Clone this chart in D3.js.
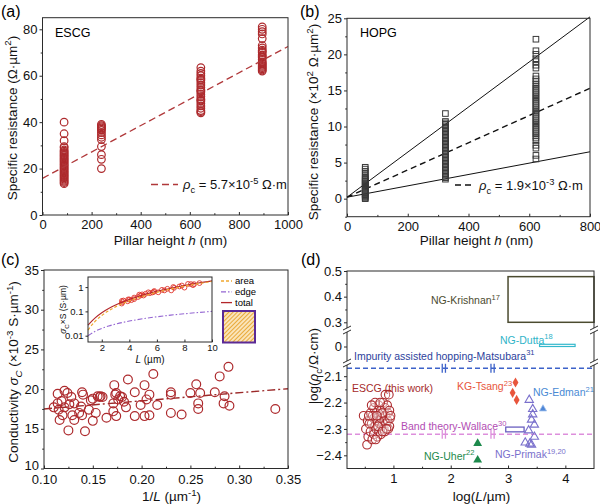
<!DOCTYPE html>
<html><head><meta charset="utf-8">
<script src="https://cdn.jsdelivr.net/npm/d3@7"></script>
<style>body{margin:0;background:#fff} svg{display:block}</style>
</head><body>
<script>
// ---------------- DATA ----------------
// (a) ESCG
const aHeights = [88, 240, 645, 895];
const aCol1 = [13.5,14,14.5,15,15.5,16,16.5,17,17.5,18,18.5,19,19.5,20,20.5,21,21.5,22,22.5,23,23.5,24,24.5,25,25.5,26,26.5,27,27.5,28,29,29.5,32,35,40];
const aCol2 = [20,24,26,29.5,32.5,33.5,34.5,35.5,36.5,37,37.5,38,38.5,39];
const aCol3 = [44,44.5,45,46,47,48,49,49.5,50,51,52,53,53.5,54,55,56,57,58,58.5,59,60,61,62,63.5];
const aCol4 = [62,62.5,63,63.5,64,64.5,65,65.5,66,67,68,68.5,69,70,70.5,71,72,73,76,78,79,80,81];
const aFitX = [0, 1000];
const aFitY = [15.8, 72.6];
const aXTicks = [0,200,400,600,800,1000], aXMinor = [100,300,500,700,900];
const aYTicks = [0,20,40,60,80], aYMinor = [10,30,50,70];

// (b) HOPG
const bHeights = [60, 324, 622];
const bCol1 = [0.0,0.1,0.25,0.4,0.55,0.7,0.85,1.0,1.15,1.3,1.45,1.6,1.75,1.9,2.05,2.2,2.35,2.5,2.65,2.8,2.95,3.2,3.5,3.8,4.1,4.35];
const bCol2 = [2.7,2.9,3.1,3.3,3.5,3.7,3.9,4.1,4.3,4.5,4.7,4.9,5.1,5.3,5.5,5.7,5.9,6.1,6.3,6.5,6.7,6.9,7.1,7.3,7.5,7.7,7.9,8.1,8.3,8.5,8.7,8.9,9.1,9.3,9.5,9.7,9.9,10.1,10.3,10.5,10.7,11.8];
const bCol3 = [5.5,6.0,7.0,7.4,8.0,8.4,8.7,9.0,9.3,9.6,9.9,10.2,10.5,10.8,11.1,11.4,11.7,12.0,12.3,12.6,12.9,13.2,13.5,13.8,14.1,14.4,14.7,15.0,15.3,15.6,15.9,16.3,16.6,17.0,18.1,18.5,19.0,19.4,20.0,20.5,22.1];
const bLineX = [0, 800];
const bUpperY = [0.2, 25.2];
const bFitY = [0.2, 15.3];
const bLowerY = [0.2, 6.5];
const bXTicks = [0,200,400,600,800], bXMinor = [100,300,500,700];
const bYTicks = [0,5,10,15,20,25], bYMinor = [-2.5,2.5,7.5,12.5,17.5,22.5];

// (c) conductivity vs 1/L
const cInvL = [0.110,0.114,0.115,0.114,0.116,0.118,0.119,0.121,0.121,0.124,0.125,0.126,0.128,0.129,0.131,0.131,0.136,0.138,0.139,0.139,0.140,0.142,0.146,0.148,0.150,0.150,0.153,0.155,0.157,0.158,0.160,0.164,0.171,0.172,0.171,0.173,0.174,0.174,0.176,0.178,0.180,0.182,0.184,0.186,0.193,0.193,0.199,0.203,0.203,0.205,0.208,0.208,0.212,0.216,0.230,0.230,0.230,0.241,0.250,0.256,0.258,0.258,0.260,0.275,0.280,0.284,0.285,0.289,0.290,0.337];
const cSigma = [17.7,18.2,17.4,19.4,16.1,18.5,16.7,19.8,17.7,19.5,14.8,18.1,19.0,16.7,16.1,18.2,17.0,17.8,16.7,19.6,19.3,14.7,17.4,18.6,16.0,18.8,17.0,19.1,19.0,19.1,19.0,16.4,18.2,20.5,17.2,19.3,16.6,19.5,18.7,19.1,19.0,18.4,17.7,21.2,19.6,16.6,18.0,16.6,20.5,18.7,19.3,16.7,21.9,18.0,17.0,19.6,19.3,16.8,19.5,20.6,18.2,17.5,19.5,19.6,21.6,18.2,19.1,22.8,17.9,17.5];
const cFitX = [0.10, 0.35];
const cFitY = [17.5, 20.05];
const cXTicks = [0.10,0.15,0.20,0.25,0.30,0.35], cXMinor = [0.125,0.175,0.225,0.275,0.325];
const cYTicks = [10,15,20,25,30,35], cYMinor = [12.5,17.5,22.5,27.5,32.5];
// inset
const iL     = [1,1.5,2,2.5,3,4,5,6,7,8,9,10];
const iArea  = [0.017,0.038,0.068,0.106,0.153,0.27,0.42,0.61,0.83,1.09,1.38,1.70];
const iEdge  = [0.010,0.015,0.020,0.025,0.030,0.040,0.050,0.060,0.070,0.080,0.090,0.100];
const iTotal = [0.027,0.053,0.088,0.131,0.183,0.31,0.47,0.67,0.90,1.17,1.47,1.80];
const iPtL = [9.09,8.70,8.62,8.47,8.26,8.0,7.81,7.63,7.25,7.19,7.04,6.76,6.54,6.37,6.10,5.81,5.78,5.68,5.49,5.38,5.18,5.03,4.93,4.81,4.72,4.63,4.35,4.35,4.15,4.0,3.91,3.88,3.57,3.51,3.46,3.45];
const iPtV = [1.46,1.32,1.20,1.33,1.35,0.95,1.16,1.06,0.93,1.01,0.73,0.85,0.73,0.77,0.61,0.69,0.64,0.60,0.56,0.61,0.53,0.45,0.50,0.45,0.49,0.39,0.32,0.37,0.29,0.31,0.31,0.26,0.28,0.24,0.27,0.21];
const iXTicks = [2,4,6,8,10];
const iYTicks = [0.01,0.1,1];
const iLegend = ["area","edge","total"];

// (d) log rho vs log L
const dEscg = [[0.48,-2.25],[0.55,-2.27],[0.52,-2.30],[0.56,-2.33],[0.54,-2.36],[0.60,-2.24],[0.62,-2.28],[0.60,-2.31],[0.63,-2.34],[0.66,-2.22],[0.66,-2.26],[0.68,-2.29],[0.66,-2.32],[0.70,-2.24],[0.72,-2.27],[0.70,-2.30],[0.72,-2.33],[0.74,-2.21],[0.75,-2.25],[0.76,-2.28],[0.75,-2.31],[0.78,-2.23],[0.79,-2.26],[0.80,-2.29],[0.78,-2.32],[0.82,-2.20],[0.82,-2.24],[0.84,-2.27],[0.83,-2.30],[0.85,-2.22],[0.86,-2.25],[0.87,-2.28],[0.85,-2.31],[0.89,-2.21],[0.90,-2.24],[0.90,-2.27],[0.91,-2.30],[0.93,-2.23],[0.94,-2.26],[0.93,-2.29],[0.86,-2.17],[0.92,-2.17],[0.64,-2.25],[0.68,-2.20],[0.58,-2.28],[0.73,-2.29],[0.81,-2.31],[0.88,-2.30],[0.77,-2.20],[0.69,-2.34],[0.62,-2.21],[0.95,-2.25],[0.57,-2.25],[0.80,-2.24],[0.71,-2.25]];
const dTsang = [[3.13,-2.124],[3.08,-2.163],[3.15,-2.19]];
const dEdman = [[3.61,-2.224]];
const dPrimak = [[3.37,-2.19],[3.43,-2.225],[3.43,-2.245],[3.41,-2.265],[3.46,-2.284],[3.36,-2.306],[3.46,-2.33],[3.30,-2.352],[3.38,-2.356],[3.41,-2.36]];
const dPrimakBox = [2.96, 3.28, -2.293, -2.311];
const dUher = [[2.47,-2.355],[2.47,-2.418]];
const dKrishnanBox = [3.0, 4.5, 0.30, 0.478];
const dDuttaBox = [3.55, 4.17, 0.0, 0.008];
const dMatsubara = -2.07, dWallace = -2.32;
const dGapMarks = [1.88, 2.73];
const dXTicks = [1,2,3,4], dXMinor = [0.5,1.5,2.5,3.5];
const dYUpTicks = [0.3,0.4,0.5], dYUpMinor = [0.35,0.45];
const dYMidTicks = [0];
const dYLowTicks = [-2.1,-2.2,-2.3,-2.4], dYLowMinor = [-2.15,-2.25,-2.35];

// ---------------- DRAWING ----------------
const FONT = "'Liberation Sans', Arial, Helvetica, sans-serif";
const INK = "#2b2b2b";
const RED = "#ad2a2d";
const svg = d3.select("body").append("svg").attr("width",600).attr("height",504)
  .style("font-family", FONT);

function rich(g, x, y, parts, fs, opt = {}) {
  const t = g.append("text").attr("x", x).attr("y", y).attr("font-size", fs)
    .attr("fill", opt.fill || "#111").attr("text-anchor", opt.anchor || "start");
  if (opt.rotate) t.attr("transform", `rotate(-90,${x},${y})`);
  let shift = 0;
  parts.forEach(p => {
    if (typeof p === "string") p = {t: p};
    let target = 0, size = fs;
    if (p.sub) { target = fs * 0.3; size = fs * 0.72; }
    if (p.sup) { target = -fs * 0.4; size = fs * 0.72; }
    const s = t.append("tspan").text(p.t).attr("font-size", size).attr("dy", target - shift);
    if (p.i) s.attr("font-style", "italic");
    if (p.fill) s.attr("fill", p.fill);
    shift = target;
  });
  return t;
}

function styleAxis(a, fs) {
  a.select(".domain").remove();
  a.selectAll("line").attr("stroke", INK).attr("stroke-width", 1);
  a.selectAll("text").attr("font-size", fs).attr("font-family", FONT).attr("fill", "#111");
}
function xAxis(g, scale, y, majors, minors, fmt, fs = 13, size = 3, pad = 5) {
  const a = g.append("g").attr("transform", `translate(0,${y})`)
    .call(d3.axisBottom(scale).tickValues(majors).tickSize(-size).tickPadding(pad).tickFormat(fmt));
  styleAxis(a, fs);
  if (minors) {
    const m = g.append("g").attr("transform", `translate(0,${y})`)
      .call(d3.axisBottom(scale).tickValues(minors).tickSize(-size * 0.6).tickFormat(""));
    styleAxis(m, fs);
  }
  return a;
}
function yAxis(g, scale, x, majors, minors, fmt, fs = 13, size = 3) {
  const a = g.append("g").attr("transform", `translate(${x},0)`)
    .call(d3.axisLeft(scale).tickValues(majors).tickSize(size).tickPadding(2).tickFormat(fmt));
  styleAxis(a, fs);
  if (minors) {
    const m = g.append("g").attr("transform", `translate(${x},0)`)
      .call(d3.axisLeft(scale).tickValues(minors).tickSize(size * 0.6).tickFormat(""));
    styleAxis(m, fs);
  }
  return a;
}
function frame(g, x0, y0, x1, y1, w = 1) {
  g.append("rect").attr("x", x0).attr("y", y0).attr("width", x1 - x0).attr("height", y1 - y0)
    .attr("fill", "none").attr("stroke", INK).attr("stroke-width", w);
}
const lineGen = (xs, ys) => d3.line().x(d => xs(d[0])).y(d => ys(d[1]));

// ===== Panel (a) =====
{
  const g = svg.append("g");
  const x = d3.scaleLinear([0, 1000], [42.5, 288]);
  const y = d3.scaleLinear([0, 85], [215, 17.7]);
  const cols = [aCol1, aCol2, aCol3, aCol4];
  cols.forEach((col, i) => {
    g.selectAll(null).data(col).enter().append("circle")
      .attr("cx", x(aHeights[i])).attr("cy", d => y(d)).attr("r", 3.8)
      .attr("fill", "none").attr("stroke", RED).attr("stroke-width", 1.2);
  });
  g.append("path").attr("d", lineGen(x, y)(aFitX.map((v, i) => [v, aFitY[i]])))
    .attr("stroke", "#b0383a").attr("stroke-width", 1.3).attr("stroke-dasharray", "7,4").attr("fill", "none");
  frame(g, 42.5, 17.7, 288, 215);
  xAxis(g, x, 215, aXTicks, aXMinor, d3.format("d"));
  yAxis(g, y, 42.5, aYTicks, aYMinor, d3.format("d"));
  g.append("text").attr("x", 55).attr("y", 37).attr("font-size", 12.5).text("ESCG");
  g.append("line").attr("x1", 151).attr("x2", 178).attr("y1", 184.5).attr("y2", 184.5)
    .attr("stroke", "#b0383a").attr("stroke-width", 1.3).attr("stroke-dasharray", "7,4");
  rich(g, 183, 189, [{t:"ρ", i:true}, {t:"c", sub:true}, " = 5.7×10", {t:"-5", sup:true}, " Ω·m"], 13);
  rich(g, 170.5, 244.5, ["Pillar height ", {t:"h", i:true}, " (nm)"], 13.5, {anchor:"middle"});
  rich(g, 16.5, 118, ["Specific resistance (Ω·µm", {t:"2", sup:true}, ")"], 13.5, {anchor:"middle", rotate:true});
  g.append("text").attr("x", 1).attr("y", 17).attr("font-size", 16).text("(a)");
}

// ===== Panel (b) =====
{
  const g = svg.append("g");
  const x = d3.scaleLinear([0, 800], [347, 590]);
  const y = d3.scaleLinear([-2.5, 25], [216.7, 18.3]);
  const lines = [[bUpperY, null], [bLowerY, null], [bFitY, "6,4"]];
  lines.forEach(([ys, dash]) => {
    const p = g.append("path").attr("d", lineGen(x, y)(bLineX.map((v, i) => [v, ys[i]])))
      .attr("stroke", "#111").attr("stroke-width", dash ? 1.4 : 1).attr("fill", "none");
    if (dash) p.attr("stroke-dasharray", dash);
  });
  [bCol1, bCol2, bCol3].forEach((col, i) => {
    g.selectAll(null).data(col).enter().append("rect")
      .attr("x", x(bHeights[i]) - 2.8).attr("y", d => y(d) - 2.8).attr("width", 5.6).attr("height", 5.6)
      .attr("fill", "none").attr("stroke", "#3a3a3a").attr("stroke-width", 1);
  });
  frame(g, 347, 18.3, 590, 216.7);
  xAxis(g, x, 216.7, bXTicks, bXMinor, d3.format("d"));
  yAxis(g, y, 347, bYTicks, bYMinor, d3.format("d"));
  g.append("text").attr("x", 360).attr("y", 37).attr("font-size", 12.5).text("HOPG");
  g.append("line").attr("x1", 455).attr("x2", 474).attr("y1", 185).attr("y2", 185)
    .attr("stroke", "#111").attr("stroke-width", 1.4).attr("stroke-dasharray", "6,4");
  rich(g, 479, 190, [{t:"ρ", i:true}, {t:"c", sub:true}, " = 1.9×10", {t:"-3", sup:true}, " Ω·m"], 13);
  rich(g, 476.5, 244.5, ["Pillar height ", {t:"h", i:true}, " (nm)"], 13.5, {anchor:"middle"});
  rich(g, 318, 122, ["Specific resistance (×10", {t:"2", sup:true}, " Ω·µm", {t:"2", sup:true}, ")"], 13.5, {anchor:"middle", rotate:true});
  g.append("text").attr("x", 300).attr("y", 17).attr("font-size", 16).text("(b)");
}

// ===== Panel (c) =====
{
  const g = svg.append("g");
  const x = d3.scaleLinear([0.10, 0.35], [44, 288]);
  const y = d3.scaleLinear([10, 35], [468.5, 270]);
  g.append("path").attr("d", lineGen(x, y)(cFitX.map((v, i) => [v, cFitY[i]])))
    .attr("stroke", "#9c2a2a").attr("stroke-width", 1.4).attr("stroke-dasharray", "8,3,2,3").attr("fill", "none");
  g.selectAll(null).data(cInvL.map((v, i) => [v, cSigma[i]])).enter().append("circle")
    .attr("cx", d => x(d[0])).attr("cy", d => y(d[1])).attr("r", 4.4)
    .attr("fill", "none").attr("stroke", RED).attr("stroke-width", 1.2);
  frame(g, 44, 270, 288, 468.5);
  xAxis(g, x, 468.5, cXTicks, cXMinor, d3.format(".2f"), 13, 3, 6.5);
  const ya = yAxis(g, y, 44, cYTicks, cYMinor, d3.format("d"));
  ya.selectAll(".tick text").filter(d => d === 10).attr("dy", "0.1em");
  rich(g, 171.5, 501, ["1/", {t:"L", i:true}, " (µm", {t:"-1", sup:true}, ")"], 13.5, {anchor:"middle"});
  rich(g, 18, 372, ["Conductivity ", {t:"σ", i:true}, {t:"C", sub:true, i:true}, " (×10", {t:"-3", sup:true}, " S·µm", {t:"-1", sup:true}, ")"], 13.5, {anchor:"middle", rotate:true});
  g.append("text").attr("x", 1).attr("y", 265).attr("font-size", 16).text("(c)");

  // inset
  const ix = d3.scaleLinear([1, 10], [88, 212]);
  const iy = d3.scaleLog([0.0055, 2.6], [342, 277]);
  g.append("rect").attr("x", 88).attr("y", 277).attr("width", 124).attr("height", 65).attr("fill", "#fff");
  const curve = d3.line().x(d => ix(d[0])).y(d => iy(d[1])).curve(d3.curveMonotoneX);
  g.append("path").attr("d", curve(iL.map((v, i) => [v, iEdge[i]])))
    .attr("stroke", "#9466d2").attr("stroke-width", 1.1).attr("stroke-dasharray", "5,2,1.5,2").attr("fill", "none");
  g.selectAll(null).data(iPtL.map((v, i) => [v, iPtV[i]])).enter().append("circle")
    .attr("cx", d => ix(d[0])).attr("cy", d => iy(d[1])).attr("r", 2.4)
    .attr("fill", "none").attr("stroke", "#e0362e").attr("stroke-width", 0.9);
  g.append("path").attr("d", curve(iL.map((v, i) => [v, iTotal[i]])))
    .attr("stroke", "#b3262a").attr("stroke-width", 1.1).attr("fill", "none");
  g.append("path").attr("d", curve(iL.map((v, i) => [v, iArea[i]])))
    .attr("stroke", "#f0a830").attr("stroke-width", 1.2).attr("stroke-dasharray", "3,2").attr("fill", "none");
  frame(g, 88, 277, 212, 342);
  xAxis(g, ix, 342, iXTicks, null, d3.format("d"), 9.5, 2.5, 2.5);
  yAxis(g, iy, 88, iYTicks, null, d => d >= 1 ? "1" : String(d), 9.5, 2.5);
  rich(g, 150, 362.5, [{t:"L", i:true}, " (µm)"], 10, {anchor:"middle"});
  rich(g, 66, 309.5, [{t:"σ", i:true}, {t:"C", sub:true}, "×S (S·µm)"], 8.5, {anchor:"middle", rotate:true});
  // legend
  const lg = [["#f0a830", "3,2"], ["#9466d2", "5,2,1.5,2"], ["#b3262a", null]];
  iLegend.forEach((name, i) => {
    const yy = 281 + i * 10.8;
    const l = g.append("line").attr("x1", 221).attr("x2", 232).attr("y1", yy).attr("y2", yy)
      .attr("stroke", lg[i][0]).attr("stroke-width", 1.3);
    if (lg[i][1]) l.attr("stroke-dasharray", lg[i][1]);
    g.append("text").attr("x", 235).attr("y", yy + 3.3).attr("font-size", 9.5).text(name);
  });
  const defs = svg.append("defs");
  const pat = defs.append("pattern").attr("id", "hatch").attr("patternUnits", "userSpaceOnUse")
    .attr("width", 3).attr("height", 3).attr("patternTransform", "rotate(-45)");
  pat.append("rect").attr("width", 3).attr("height", 3).attr("fill", "#fbe7c0");
  pat.append("line").attr("x1", 0).attr("x2", 3).attr("y1", 1.5).attr("y2", 1.5).attr("stroke", "#e9a93a").attr("stroke-width", 1.1);
  g.append("rect").attr("x", 223).attr("y", 311).attr("width", 32).attr("height", 31.5)
    .attr("fill", "url(#hatch)").attr("stroke", "#5b2a96").attr("stroke-width", 2);
}

// ===== Panel (d) =====
{
  const g = svg.append("g");
  const L = 347, R = 594, T = 271, B = 468.5;
  const x = d3.scaleLinear([0.19, 4.5], [L, R]);
  const yU = d3.scaleLinear([0.27, 0.5], [330, T]);
  const yM = d3.scaleLinear([-0.06, 0.06], [363, 330]);
  const yL = d3.scaleLinear([-2.45, -2.05], [B, 363]);

  // Krishnan box
  g.append("rect").attr("x", x(dKrishnanBox[0])).attr("y", yU(dKrishnanBox[3]))
    .attr("width", x(dKrishnanBox[1]) - x(dKrishnanBox[0])).attr("height", yU(dKrishnanBox[2]) - yU(dKrishnanBox[3]))
    .attr("fill", "none").attr("stroke", "#4b4b30").attr("stroke-width", 1.5);
  rich(g, 500, 304, ["NG-Krishnan", {t:"17", sup:true}], 10.5, {anchor:"end", fill:"#4b4b30"});
  // Dutta
  g.append("rect").attr("x", x(dDuttaBox[0])).attr("y", yM(dDuttaBox[3]))
    .attr("width", x(dDuttaBox[1]) - x(dDuttaBox[0])).attr("height", yM(dDuttaBox[2]) - yM(dDuttaBox[3]))
    .attr("fill", "none").attr("stroke", "#33b8cc").attr("stroke-width", 1.2);
  rich(g, 500, 343.5, ["NG-Dutta", {t:"18", sup:true}], 10.5, {fill:"#2fb4c8"});

  // reference lines
  [[dMatsubara, "#3d62c9"], [dWallace, "#dd8fdc"]].forEach(([v, c]) => {
    g.append("line").attr("x1", L).attr("x2", R).attr("y1", yL(v)).attr("y2", yL(v))
      .attr("stroke", c).attr("stroke-width", 1.4).attr("stroke-dasharray", "5,3");
    dGapMarks.forEach(m => {
      [-1.6, 1.6].forEach(off => {
        g.append("line").attr("x1", x(m) + off).attr("x2", x(m) + off)
          .attr("y1", yL(v) - 4.5).attr("y2", yL(v) + 4.5).attr("stroke", c).attr("stroke-width", 1.3);
      });
    });
  });
  rich(g, 354, 359.5, ["Impurity assisted hopping-Matsubara", {t:"31", sup:true}], 10.5, {fill:"#2c3f9c"});
  rich(g, 401, 430, ["Band theory-Wallace", {t:"30", sup:true}], 10.5, {fill:"#b24db3"});

  // ESCG
  g.selectAll(null).data(dEscg).enter().append("circle")
    .attr("cx", d => x(d[0])).attr("cy", d => yL(d[1])).attr("r", 4.3)
    .attr("fill", "#fff").attr("fill-opacity", 0.3).attr("stroke", RED).attr("stroke-width", 1.1);
  rich(g, 352, 392, ["ESCG (this work)"], 10.5, {fill:"#a52a2a"});

  // Tsang diamonds
  g.selectAll(null).data(dTsang).enter().append("path")
    .attr("d", d3.symbol(d3.symbolDiamond, 30))
    .attr("transform", d => `translate(${x(d[0])},${yL(d[1])})`)
    .attr("fill", "#e8553c");
  rich(g, 457, 390, ["KG-Tsang", {t:"23", sup:true}], 10.5, {fill:"#e8553c"});

  // Edman
  g.selectAll(null).data(dEdman).enter().append("path")
    .attr("d", d3.symbol(d3.symbolTriangle, 22))
    .attr("transform", d => `translate(${x(d[0])},${yL(d[1])})`)
    .attr("fill", "#4f86d6").attr("stroke", "#9fc0ee").attr("stroke-width", 0.8);
  rich(g, 533, 396, ["NG-Edman", {t:"21", sup:true}], 10.5, {fill:"#4a8ad4"});

  // Primak
  g.selectAll(null).data(dPrimak).enter().append("path")
    .attr("d", d3.symbol(d3.symbolTriangle, 30))
    .attr("transform", d => `translate(${x(d[0])},${yL(d[1])})`)
    .attr("fill", "none").attr("stroke", "#7a70cc").attr("stroke-width", 1.1);
  g.append("rect").attr("x", x(dPrimakBox[0])).attr("y", yL(dPrimakBox[2]))
    .attr("width", x(dPrimakBox[1]) - x(dPrimakBox[0])).attr("height", yL(dPrimakBox[3]) - yL(dPrimakBox[2]))
    .attr("fill", "none").attr("stroke", "#6a5fc0").attr("stroke-width", 1.3);
  rich(g, 495, 458, ["NG-Primak", {t:"19,20", sup:true}], 10.5, {fill:"#7a70cc"});

  // Uher
  g.selectAll(null).data(dUher).enter().append("path")
    .attr("d", d3.symbol(d3.symbolTriangle, 34))
    .attr("transform", d => `translate(${x(d[0])},${yL(d[1])})`)
    .attr("fill", "#1d8a4c");
  rich(g, 424, 459.5, ["NG-Uher", {t:"22", sup:true}], 10.5, {fill:"#1d8a4c"});

  // frame & axes
  frame(g, L, T, R, B);
  xAxis(g, x, B, dXTicks, dXMinor, d3.format("d"));
  yAxis(g, yU, L, dYUpTicks, dYUpMinor, d3.format(".1f"));
  yAxis(g, yM, L, dYMidTicks, null, d3.format("d"));
  yAxis(g, yL, L, dYLowTicks, dYLowMinor, d3.format(".1f"));
  // axis breaks
  [330, 363].forEach(by => {
    [L, R].forEach(bx => {
      g.append("rect").attr("x", bx - 3).attr("y", by - 2).attr("width", 6).attr("height", 4).attr("fill", "#fff");
      [-2, 2].forEach(off => {
        g.append("line").attr("x1", bx - 4).attr("x2", bx + 4).attr("y1", by + off + 2).attr("y2", by + off - 2)
          .attr("stroke", INK).attr("stroke-width", 1);
      });
    });
  });
  rich(g, 481.5, 501, ["log(", {t:"L", i:true}, "/µm)"], 13.5, {anchor:"middle"});
  rich(g, 318, 366, ["log(", {t:"ρ", i:true}, {t:"c", sub:true}, "/Ω·cm)"], 13.5, {anchor:"middle", rotate:true});
  g.append("text").attr("x", 301).attr("y", 265).attr("font-size", 16).text("(d)");
}
</script>
</body></html>
